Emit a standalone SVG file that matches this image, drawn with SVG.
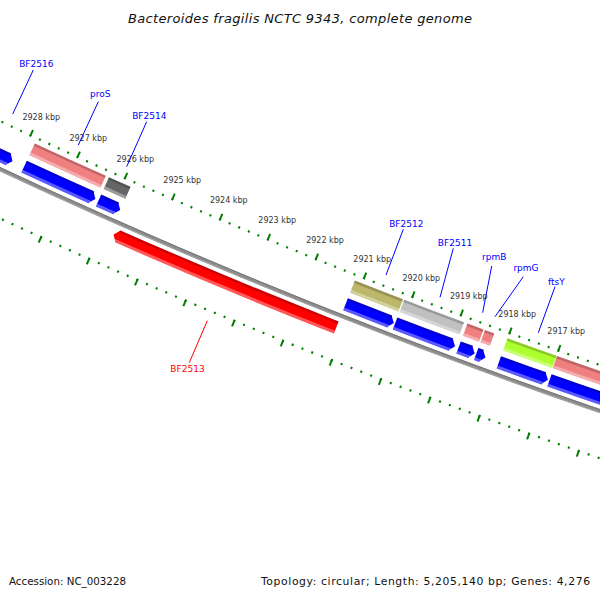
<svg xmlns="http://www.w3.org/2000/svg" width="600" height="600" viewBox="0 0 600 600">
<style>
text{font-family:"DejaVu Sans","Liberation Sans",sans-serif}
.tl{font-size:8px;fill:#333;text-anchor:middle}
.gl{font-size:9px;text-anchor:middle}
.b{fill:#0000ff}
.r{fill:#ff0000}
.lead line{stroke-width:1}
.ring{fill:none;stroke:#008000}
</style>
<defs>
<linearGradient id="shade" x1="0" y1="0" x2="1" y2="0">
<stop offset="0" stop-color="#000" stop-opacity="0.2"/>
<stop offset="0.19" stop-color="#000" stop-opacity="0.2"/>
<stop offset="0.19" stop-color="#000" stop-opacity="0"/>
<stop offset="0.77" stop-color="#fff" stop-opacity="0"/>
<stop offset="0.77" stop-color="#fff" stop-opacity="0.35"/>
<stop offset="1" stop-color="#fff" stop-opacity="0.35"/>
</linearGradient>
<g id="cog" fill="none">
<circle r="5968.5" stroke="currentColor" stroke-width="13" pathLength="36000"/>
<circle r="5963.25" stroke="#000" stroke-opacity="0.2" stroke-width="2.5" pathLength="36000"/>
<circle r="5973.5" stroke="#fff" stroke-opacity="0.35" stroke-width="3" pathLength="36000"/>
</g>
<g id="rev" fill="none">
<circle r="5987.5" stroke="currentColor" stroke-width="13" pathLength="36000"/>
<circle r="5982.25" stroke="#000" stroke-opacity="0.2" stroke-width="2.5" pathLength="36000"/>
<circle r="5992.5" stroke="#fff" stroke-opacity="0.35" stroke-width="3" pathLength="36000"/>
</g>
<g id="fwd" fill="none">
<circle r="6012.5" stroke="currentColor" stroke-width="13" pathLength="36000"/>
<circle r="6007.25" stroke="#000" stroke-opacity="0.2" stroke-width="2.5" pathLength="36000"/>
<circle r="6017.5" stroke="#fff" stroke-opacity="0.35" stroke-width="3" pathLength="36000"/>
</g>
<g id="headRev">
<polygon points="5987.5,0 5981,5 5994,5" fill="currentColor"/>
<polygon points="5987.5,0 5981,5 5994,5" fill="url(#shade)"/>
</g>
<g id="headFwd">
<polygon points="6012.5,0 6006,-5 6019,-5" fill="currentColor"/>
<polygon points="6012.5,0 6006,-5 6019,-5" fill="url(#shade)"/>
</g>
</defs>
<rect width="600" height="600" fill="#fff"/>

<g id="backbone" transform="translate(2540.7,-5266.3)">
<circle r="6000" fill="none" stroke="#8c8c8c" stroke-width="4"/>
<circle r="5998.5" fill="none" stroke="#777" stroke-width="1"/>
<circle r="6001.5" fill="none" stroke="#a8a8a8" stroke-width="1"/>
<circle class="ring" r="5956.4" stroke-width="2.2" pathLength="36000" stroke-dasharray="1.9 8.074" stroke-dashoffset="8.43"/>
<circle class="ring" r="5954" stroke-width="7" pathLength="36000" stroke-dasharray="1.9 47.97" stroke-dashoffset="28.38"/>
<circle class="ring" r="6044.6" stroke-width="2.2" pathLength="36000" stroke-dasharray="1.9 8.074" stroke-dashoffset="8.43"/>
<circle class="ring" r="6047" stroke-width="7" pathLength="36000" stroke-dasharray="1.9 47.97" stroke-dashoffset="28.38"/>
</g>

<g id="tick-labels">
<text class="tl" x="41.3" y="119.5">2928 kbp</text>
<text class="tl" x="88.3" y="140.7">2927 kbp</text>
<text class="tl" x="135.3" y="162">2926 kbp</text>
<text class="tl" x="182.2" y="182.5">2925 kbp</text>
<text class="tl" x="228.8" y="203">2924 kbp</text>
<text class="tl" x="277.2" y="223">2923 kbp</text>
<text class="tl" x="325" y="243">2922 kbp</text>
<text class="tl" x="372.2" y="262">2921 kbp</text>
<text class="tl" x="421.3" y="280.5">2920 kbp</text>
<text class="tl" x="468.8" y="299">2919 kbp</text>
<text class="tl" x="517.2" y="316.7">2918 kbp</text>
<text class="tl" x="566.2" y="334">2917 kbp</text>
</g>

<g id="gene-BF2516">
<g transform="translate(2540.7,-5266.3)">
<use href="#rev" style="color:#0000ff;stroke-dasharray:0 11502 150 40000"/>
<use href="#headRev" transform="rotate(114.977)" style="color:#0000ff"/>
</g>
<text class="gl b" x="36.3" y="66.7">BF2516</text>
</g>

<g id="gene-proS">
<g transform="translate(2540.7,-5266.3)">
<use href="#cog" style="color:#f08080;stroke-dasharray:0 11410.5 75 40000"/>
<use href="#rev" style="color:#0000ff;stroke-dasharray:0 11414.8 70.7 40000"/>
<use href="#headRev" transform="rotate(114.105)" style="color:#0000ff"/>
</g>
<text class="gl b" x="100.3" y="96.7">proS</text>
</g>

<g id="gene-BF2514">
<g transform="translate(2540.7,-5266.3)">
<use href="#cog" style="color:#666666;stroke-dasharray:0 11384.5 22.7 40000"/>
<use href="#rev" style="color:#0000ff;stroke-dasharray:0 11388.8 18.4 40000"/>
<use href="#headRev" transform="rotate(113.845)" style="color:#0000ff"/>
</g>
<text class="gl b" x="149.3" y="119">BF2514</text>
</g>

<g id="gene-BF2513">
<g transform="translate(2540.7,-5266.3)">
<use href="#fwd" style="color:#ff0000;stroke-dasharray:0 11150.9 225.7 40000"/>
<use href="#headFwd" transform="rotate(113.809)" style="color:#ff0000"/>
</g>
<text class="gl r" x="187.5" y="371.5">BF2513</text>
</g>

<g id="gene-BF2512">
<g transform="translate(2540.7,-5266.3)">
<use href="#cog" style="color:#bdb76b;stroke-dasharray:0 11101.2 49.6 40000"/>
<use href="#rev" style="color:#0000ff;stroke-dasharray:0 11105.5 45.3 40000"/>
<use href="#headRev" transform="rotate(111.012)" style="color:#0000ff"/>
</g>
<text class="gl b" x="406.3" y="227.3">BF2512</text>
</g>

<g id="gene-BF2511">
<g transform="translate(2540.7,-5266.3)">
<use href="#cog" style="color:#c0c0c0;stroke-dasharray:0 11038.5 61.5 40000"/>
<use href="#rev" style="color:#0000ff;stroke-dasharray:0 11042.8 57.2 40000"/>
<use href="#headRev" transform="rotate(110.385)" style="color:#0000ff"/>
</g>
<text class="gl b" x="455" y="246">BF2511</text>
</g>

<g id="gene-rpmB">
<g transform="translate(2540.7,-5266.3)">
<use href="#cog" style="color:#f08080;stroke-dasharray:0 11018.5 16.5 40000"/>
<use href="#rev" style="color:#0000ff;stroke-dasharray:0 11022.8 12.2 40000"/>
<use href="#headRev" transform="rotate(110.185)" style="color:#0000ff"/>
</g>
<text class="gl b" x="494.2" y="260">rpmB</text>
</g>

<g id="gene-rpmG">
<g transform="translate(2540.7,-5266.3)">
<use href="#cog" style="color:#f08080;stroke-dasharray:0 11007.5 9.5 40000"/>
<use href="#rev" style="color:#0000ff;stroke-dasharray:0 11011.8 5.2 40000"/>
<use href="#headRev" transform="rotate(110.075)" style="color:#0000ff"/>
</g>
<text class="gl b" x="526" y="271">rpmG</text>
</g>

<g id="gene-ftsY">
<g transform="translate(2540.7,-5266.3)">
<use href="#cog" style="color:#adff2f;stroke-dasharray:0 10944 50 40000"/>
<use href="#rev" style="color:#0000ff;stroke-dasharray:0 10948.3 45.7 40000"/>
<use href="#headRev" transform="rotate(109.44)" style="color:#0000ff"/>
</g>
<text class="gl b" x="556.3" y="284.5">ftsY</text>
</g>

<g id="gene-right">
<g transform="translate(2540.7,-5266.3)">
<use href="#cog" style="color:#f08080;stroke-dasharray:0 10830 113.5 40000"/>
<use href="#rev" style="color:#0000ff;stroke-dasharray:0 10830 112.6 40000"/>
</g>
</g>

<g id="connectors" class="lead">
<line x1="33.3" y1="70" x2="12.7" y2="114" stroke="#0000ff"/>
<line x1="98.3" y1="101.7" x2="78.3" y2="145" stroke="#0000ff"/>
<line x1="146.7" y1="121.7" x2="126.7" y2="166.7" stroke="#0000ff"/>
<line x1="403.3" y1="229.3" x2="386" y2="275" stroke="#0000ff"/>
<line x1="453.3" y1="248.3" x2="440" y2="297.3" stroke="#0000ff"/>
<line x1="491.7" y1="266" x2="482.7" y2="312.7" stroke="#0000ff"/>
<line x1="523.3" y1="276.7" x2="495" y2="316.7" stroke="#0000ff"/>
<line x1="555" y1="286.7" x2="538.3" y2="332.7" stroke="#0000ff"/>
<line x1="207.3" y1="320.7" x2="189.3" y2="362.7" stroke="#ff0000"/>
</g>

<text x="300" y="23" font-size="13" font-style="italic" text-anchor="middle" textLength="344" fill="#111">Bacteroides fragilis NCTC 9343, complete genome</text>
<text x="9" y="585" font-size="10.3" fill="#111">Accession: NC_003228</text>
<text x="261" y="585" font-size="10.8" textLength="329" lengthAdjust="spacing" fill="#111">Topology: circular; Length: 5,205,140 bp; Genes: 4,276</text>
</svg>
